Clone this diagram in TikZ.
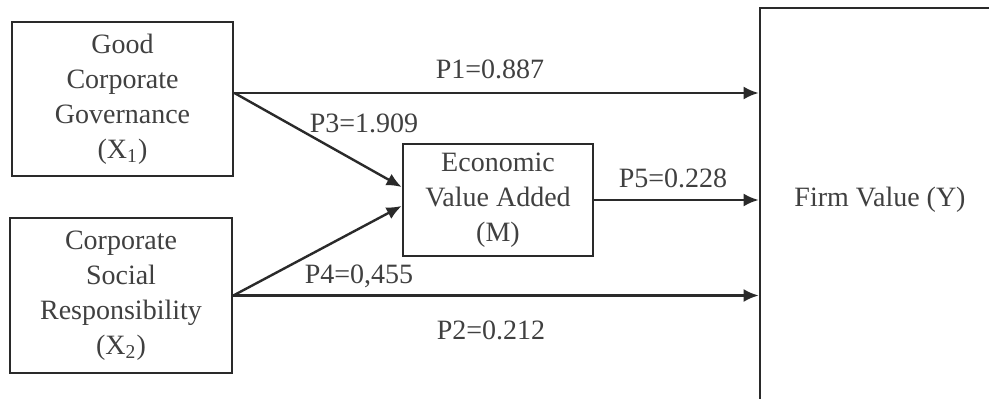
\documentclass[tikz,border=0pt]{standalone}
\usepackage{fontspec}
\setmainfont{Liberation Serif}
\usetikzlibrary{arrows.meta}
\definecolor{ink}{HTML}{2A2A2A}
\definecolor{txt}{HTML}{404040}
\tikzset{
  box/.style={draw=ink, line width=1.4pt, rectangle, inner sep=0pt, align=center,
    text=txt, font=\fontsize{14}{17.5}\selectfont},
  lbl/.style={text=txt, font=\fontsize{14}{17}\selectfont, inner sep=0pt},
  arr/.style={draw=ink, line width=1.2pt, -{Latex[length=7.5pt,width=6.5pt]}},
}
\begin{document}
\begin{tikzpicture}[x=0.5pt,y=-0.5pt]
\useasboundingbox (0,0) rectangle (989,399);
\clip (0,0) rectangle (989,399);
\fill[white] (0,0) rectangle (989,399);
% boxes
\node[box, minimum width=110.5pt, minimum height=77pt] (X1) at (122.5,99)
  {Good\\Corporate\\Governance\\(X\textsubscript{1})};
\node[box, minimum width=111pt, minimum height=77.5pt] (X2) at (121,295.5)
  {Corporate\\Social\\Responsibility\\(X\textsubscript{2})};
\node[box, minimum width=95pt, minimum height=56pt] (M) at (498,200)
  {Economic\\Value Added\\(M)};
\node[box, minimum width=130pt, minimum height=210pt] (Ybox) at (890,218) {};
\node[lbl] (Y) at (880,200) {Firm Value (Y)};
% connectors
\coordinate (a1) at ([yshift=3pt]X1.east);
\draw[arr] (a1) -- (a1 -| Ybox.west);
\draw[arr] (a1) -- ([yshift=6.5pt]M.west);
\draw[arr] (X2.east) -- ([yshift=-3pt]M.west);
\draw[arr] (X2.east) -- (X2.east -| Ybox.west);
\draw[arr] (M.east) -- (M.east -| Ybox.west);
% labels
\node[lbl] (p1) at (490,69) {P1=0.887};
\node[lbl] (p3) at (364,123) {P3=1.909};
\node[lbl] (p5) at (673,178) {P5=0.228};
\node[lbl] (p4) at (359,276) {P4=0,455};
\node[lbl] (p2) at (491,330) {P2=0.212};
\end{tikzpicture}
\end{document}
